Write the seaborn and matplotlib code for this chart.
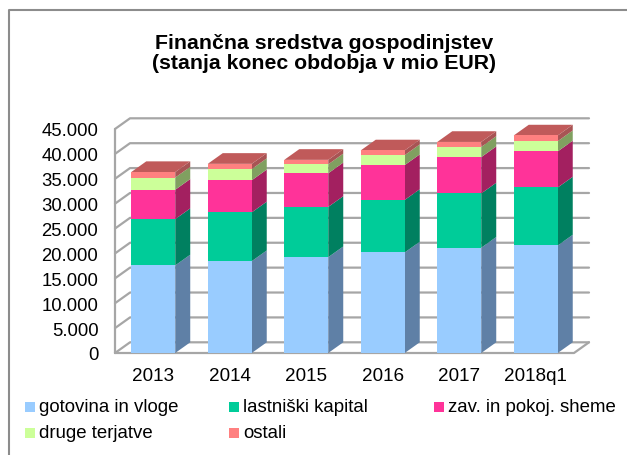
import pandas as pd
import seaborn as sns
import matplotlib.pyplot as plt
from matplotlib.patches import Polygon, Rectangle

# Data (mio EUR)
years = ["2013", "2014", "2015", "2016", "2017", "2018q1"]
gotovina = [17600, 18450, 19250, 20200, 21150, 21600]
kapital = [9300, 9800, 10100, 10550, 10900, 11650]
sheme = [5900, 6450, 6750, 7000, 7300, 7250]
druge = [2450, 2250, 1800, 2000, 2050, 2050]
ostali = [1100, 1050, 900, 950, 1000, 1150]
y_ticks = [0, 5000, 10000, 15000, 20000, 25000, 30000, 35000, 40000, 45000]

names = ["gotovina in vloge", "lastniški kapital", "zav. in pokoj. sheme", "druge terjatve", "ostali"]
series = [gotovina, kapital, sheme, druge, ostali]
colors = ["#99ccff", "#00cc99", "#ff3399", "#ccff99", "#ff8080"]
side_colors = ["#5f80a6", "#008060", "#a32060", "#80a060", "#a85454"]
top_color = "#c05a5a"
grid_color = "#a6a6a6"

# Long table with running totals for the stack
df = pd.DataFrame(dict(zip(names, series)), index=years)
cum = df.cumsum(axis=1)
long_df = cum.reset_index(names="leto").melt(id_vars="leto", var_name="serija", value_name="vsota")

W, H = 627, 456
plt.rcParams["font.family"] = ["Liberation Sans", "DejaVu Sans"]
fig = plt.figure(figsize=(W / 100, H / 100), dpi=100)

# Plot box in pixels
left, right, top, bottom = 115, 574, 130, 354
ax = fig.add_axes([left / W, 1 - bottom / H, (right - left) / W, (bottom - top) / H])

bar_w = 0.575
depth_x = 15 / 76.5
depth_y = 10.7 / 24.9 * 5000

# Tallest first, so the lower parts paint over it
sns.barplot(
    data=long_df,
    x="leto",
    y="vsota",
    hue="serija",
    hue_order=names[::-1],
    palette=dict(zip(names, colors)),
    dodge=False,
    width=bar_w,
    saturation=1,
    errorbar=None,
    legend=False,
    ax=ax,
    zorder=3,
)
ax.set_xlim(-0.5, 5.5)
ax.set_ylim(0, 45000)
for s in ax.spines.values():
    s.set_visible(False)
ax.patch.set_visible(False)
ax.set_xlabel("")
ax.set_ylabel("")
ax.set_yticks(y_ticks)
ax.set_yticklabels([f"{v:,}".replace(",", ".") for v in y_ticks])
ax.tick_params(axis="both", length=0, labelcolor="black")
ax.tick_params(axis="y", pad=12, labelsize=13.3)
ax.tick_params(axis="x", pad=10, labelsize=13.6)

# Back wall grid and slanted left wall
x0, x1 = -0.5, 5.5
line_kw = dict(color=grid_color, lw=1.6, clip_on=False, zorder=1, solid_capstyle="round")
for v in y_ticks:
    ax.plot([x0, x0 + depth_x, x1 + depth_x], [v, v + depth_y, v + depth_y], **line_kw)
ax.plot([x0, x0], [0, 45000], **line_kw)
ax.plot([x0, x1, x1 + depth_x], [0, 0, depth_y], **line_kw)

# Side and top faces of the bars
for i, year in enumerate(years):
    xr = i + bar_w / 2
    xl = i - bar_w / 2
    lo = 0
    for name, col in zip(names, side_colors):
        hi = cum.loc[year, name]
        ax.add_patch(Polygon(
            [(xr, lo), (xr + depth_x, lo + depth_y), (xr + depth_x, hi + depth_y), (xr, hi)],
            facecolor=col, edgecolor="none", clip_on=False, zorder=2,
        ))
        lo = hi
    ax.add_patch(Polygon(
        [(xl, lo), (xr, lo), (xr + depth_x, lo + depth_y), (xl + depth_x, lo + depth_y)],
        facecolor=top_color, edgecolor="none", clip_on=False, zorder=2,
    ))

# Outer chart frame, only left and top are in the picture
fig.add_artist(plt.Line2D([8.5 / W, 8.5 / W, 1], [0, 1 - 10.5 / H, 1 - 10.5 / H], color="#8c8c8c", lw=1.5))

fig.text(324 / W, 1 - 53.5 / H, "Finančna sredstva gospodinjstev\n(stanja konec obdobja v mio EUR)",
         ha="center", va="center", fontsize=15.35, fontweight="bold", linespacing=1.12)

# Legend in three uneven columns, placed by hand
legend_pos = [(25, 408), (229, 408), (434, 408), (25, 434), (229, 434)]
for (px, py), name, col in zip(legend_pos, names, colors):
    fig.add_artist(Rectangle((px / W, 1 - (py + 5) / H), 10 / W, 10 / H, transform=fig.transFigure,
                             facecolor=col, edgecolor="none"))
    fig.text((px + 14) / W, 1 - py / H, name, ha="left", va="center", fontsize=13.4)

plt.savefig("out.png", dpi=100)
